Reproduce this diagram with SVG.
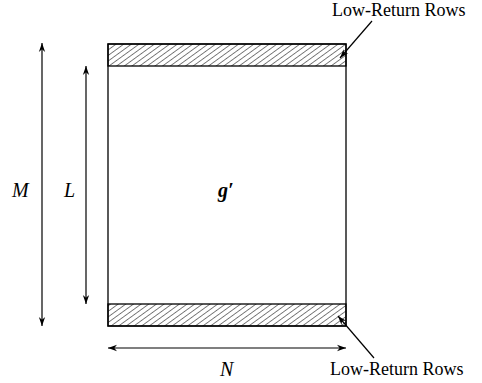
<svg xmlns="http://www.w3.org/2000/svg" width="482" height="383" viewBox="0 0 482 383">
<style>
.ln{stroke:#000;stroke-width:1.2;fill:none}
.lbl{font-family:"Liberation Serif",serif;font-size:18px;fill:#000}
.var{font-family:"Liberation Serif",serif;font-style:italic;font-size:20px;fill:#000}
</style>
<defs>
<pattern id="hatch" width="4.5" height="4.5" patternUnits="userSpaceOnUse" patternTransform="rotate(54)">
<line x1="0" y1="0" x2="0" y2="4.5" stroke="#000" stroke-width="1"/>
</pattern>
<marker id="ah" viewBox="0 0 10 10" refX="10" refY="5" markerWidth="9" markerHeight="9" orient="auto-start-reverse" markerUnits="userSpaceOnUse">
<path d="M0,1.5 L10,5 L0,8.5 L3,5 Z" fill="#000"/>
</marker>
</defs>
<g id="matrix">
<rect x="108" y="44" width="238" height="282" fill="#fff" stroke="#000" stroke-width="1.3"/>
<rect id="top-band" x="108" y="44" width="238" height="22" fill="url(#hatch)" stroke="#000" stroke-width="1.3"/>
<rect id="bottom-band" x="108" y="304" width="238" height="22" fill="url(#hatch)" stroke="#000" stroke-width="1.3"/>
<text class="var" x="218" y="197" font-weight="bold">g′</text>
</g>
<g id="connectors">
<line class="ln" x1="42" y1="43" x2="42" y2="326" marker-start="url(#ah)" marker-end="url(#ah)"/>
<line class="ln" x1="86" y1="66" x2="86" y2="304" marker-start="url(#ah)" marker-end="url(#ah)"/>
<line class="ln" x1="108" y1="348" x2="346" y2="348" marker-start="url(#ah)" marker-end="url(#ah)"/>
<line class="ln" x1="372" y1="21" x2="340" y2="58" marker-end="url(#ah)"/>
<line class="ln" x1="374" y1="358" x2="338" y2="316" marker-end="url(#ah)"/>
</g>
<g id="labels">
<text class="var" x="12" y="197">M</text>
<text class="var" x="64" y="197">L</text>
<text class="var" x="220" y="376">N</text>
<text class="lbl" x="332" y="16">Low-Return Rows</text>
<text class="lbl" x="330" y="375">Low-Return Rows</text>
</g>
</svg>
